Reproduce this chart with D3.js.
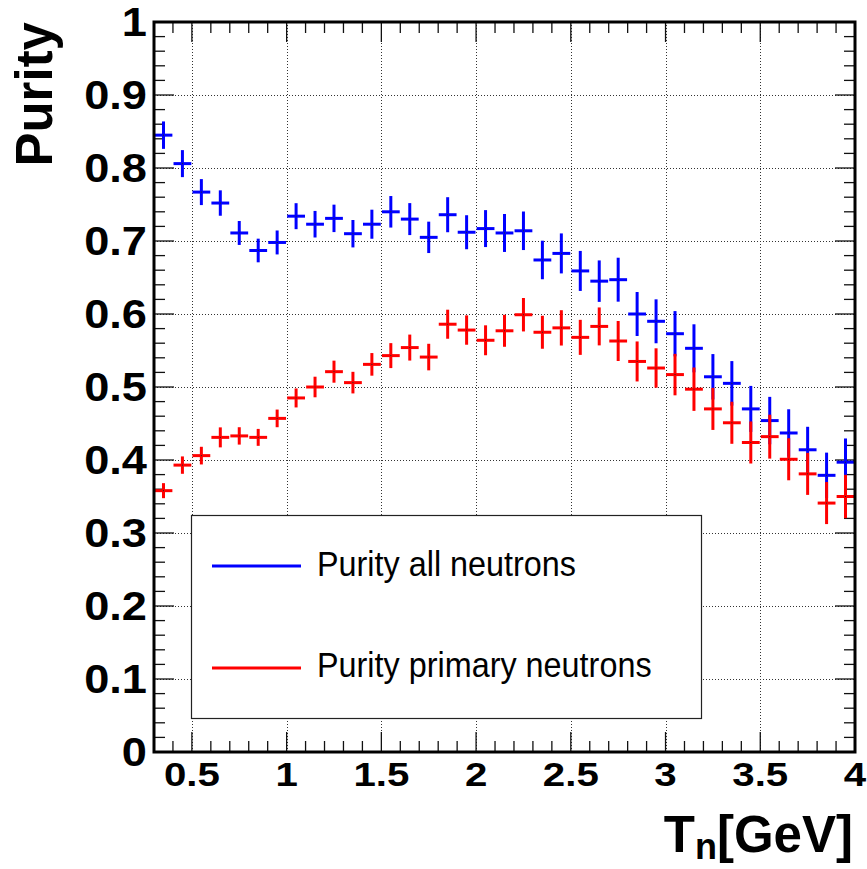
<!DOCTYPE html>
<html>
<head>
<meta charset="utf-8">
<script src="https://cdn.jsdelivr.net/npm/d3@7/dist/d3.min.js"></script>
<style>
  html, body { margin: 0; padding: 0; background: #fff; }
  svg { display: block; }
  text { font-family: "Liberation Sans", Arial, Helvetica, sans-serif; }
</style>
</head>
<body>
<svg id="chart" width="867" height="869"></svg>
<script>
// ---- data ----
const binCenters = [0.35,0.45,0.55,0.65,0.75,0.85,0.95,1.05,1.15,1.25,1.35,1.45,1.55,1.65,1.75,1.85,1.95,2.05,2.15,2.25,2.35,2.45,2.55,2.65,2.75,2.85,2.95,3.05,3.15,3.25,3.35,3.45,3.55,3.65,3.75,3.85,3.95];
const purityAll = [0.845,0.806,0.767,0.752,0.711,0.687,0.698,0.734,0.723,0.731,0.710,0.723,0.740,0.730,0.705,0.736,0.712,0.717,0.711,0.714,0.674,0.683,0.659,0.645,0.647,0.600,0.590,0.573,0.553,0.514,0.505,0.470,0.454,0.437,0.414,0.379,0.397];
const purityAllErr = [0.0188,0.0185,0.0178,0.0174,0.0164,0.0162,0.0164,0.0178,0.0182,0.0188,0.0188,0.0199,0.0216,0.0219,0.0215,0.0240,0.0233,0.0253,0.0260,0.0264,0.0264,0.0274,0.0274,0.0284,0.0301,0.0301,0.0301,0.0310,0.0329,0.0311,0.0305,0.0315,0.0325,0.0325,0.0315,0.0311,0.0325];
const purityPrimary = [0.358,0.393,0.406,0.431,0.433,0.431,0.457,0.485,0.500,0.521,0.506,0.531,0.543,0.554,0.541,0.586,0.578,0.564,0.577,0.599,0.575,0.581,0.568,0.583,0.563,0.535,0.526,0.517,0.497,0.470,0.451,0.424,0.432,0.401,0.381,0.341,0.350];
const purityPrimaryErr = [0.0103,0.0119,0.0121,0.0137,0.0119,0.0116,0.0121,0.0130,0.0141,0.0151,0.0148,0.0155,0.0171,0.0178,0.0182,0.0199,0.0201,0.0205,0.0219,0.0229,0.0226,0.0242,0.0240,0.0260,0.0274,0.0274,0.0270,0.0284,0.0297,0.0288,0.0288,0.0288,0.0301,0.0288,0.0288,0.0288,0.0297];
const xTickValues = [0.5,1,1.5,2,2.5,3,3.5,4];
const xTickLabels = ["0.5","1","1.5","2","2.5","3","3.5","4"];
const yTickValues = [0,0.1,0.2,0.3,0.4,0.5,0.6,0.7,0.8,0.9,1];
const yTickLabels = ["0","0.1","0.2","0.3","0.4","0.5","0.6","0.7","0.8","0.9","1"];
const seriesNames = ["Purity all neutrons","Purity primary neutrons"];
const xTitleMain = "T", xTitleSub = "n", xTitleUnit = "[GeV]";
const yTitle = "Purity";

// ---- layout ----
const L = 154, R = 855, T = 22, B = 752;
const svg = d3.select("#chart");
const x = d3.scaleLinear().domain([0.3, 4]).range([L, R]);
const y = d3.scaleLinear().domain([0, 1]).range([B, T]);
const halfBin = 0.047;

svg.append("rect").attr("width", 867).attr("height", 869).attr("fill", "#fff");

// grid
const grid = svg.append("g").attr("stroke", "#333").attr("stroke-width", 1).attr("stroke-dasharray", "1,2");
grid.selectAll("line.gx").data(xTickValues.filter(v => v < 4)).join("line")
  .attr("x1", d => Math.round(x(d)) + 0.5).attr("x2", d => Math.round(x(d)) + 0.5)
  .attr("y1", T).attr("y2", B);
grid.selectAll("line.gy").data(yTickValues.filter(v => v > 0 && v < 1)).join("line")
  .attr("y1", d => Math.round(y(d)) + 0.5).attr("y2", d => Math.round(y(d)) + 0.5)
  .attr("x1", L).attr("x2", R);

// ticks (ROOT-style, inside, all four sides)
const tickG = svg.append("g").attr("stroke", "#111").attr("stroke-width", 1.3);
const yMinor = d3.range(0, 51).map(i => i * 0.02);
const xMinor = d3.range(3, 41).map(i => i * 0.1);
const isMajorY = v => Math.abs(v * 10 - Math.round(v * 10)) < 1e-6;
const isMajorX = v => Math.abs(v * 2 - Math.round(v * 2)) < 1e-6;
yMinor.forEach(v => {
  const len = isMajorY(v) ? 20 : 11;
  const yy = y(v);
  tickG.append("line").attr("x1", L).attr("x2", L + len).attr("y1", yy).attr("y2", yy);
  tickG.append("line").attr("x1", R).attr("x2", R - len).attr("y1", yy).attr("y2", yy);
});
xMinor.forEach(v => {
  const len = isMajorX(v) ? 20 : 11;
  const xx = x(v);
  tickG.append("line").attr("x1", xx).attr("x2", xx).attr("y1", B).attr("y2", B - len);
  tickG.append("line").attr("x1", xx).attr("x2", xx).attr("y1", T).attr("y2", T + len);
});

// data (blue first, red on top)
function drawSeries(vals, errs, color) {
  const g = svg.append("g").attr("stroke", color).attr("stroke-width", 3);
  binCenters.forEach((c, i) => {
    g.append("line").attr("x1", x(c)).attr("x2", x(c))
      .attr("y1", y(vals[i] - errs[i])).attr("y2", y(vals[i] + errs[i]));
    g.append("line").attr("x1", x(c - halfBin)).attr("x2", x(c + halfBin))
      .attr("y1", y(vals[i])).attr("y2", y(vals[i]));
  });
  svg.append("g").selectAll("rect").data(binCenters).join("rect")
    .attr("x", d => x(d) - 0.5).attr("y", (d, i) => y(vals[i]) - 0.5)
    .attr("width", 1).attr("height", 1).attr("fill", "#222");
}
drawSeries(purityAll, purityAllErr, "#0000ff");
drawSeries(purityPrimary, purityPrimaryErr, "#ff0000");

// frame
svg.append("rect").attr("x", L).attr("y", T).attr("width", R - L).attr("height", B - T)
  .attr("fill", "none").attr("stroke", "#000").attr("stroke-width", 3);

// tick labels
const xl = svg.append("g");
xTickValues.forEach((v, i) => {
  xl.append("g").attr("transform", `translate(${x(v)},786) scale(1.22,1)`)
    .append("text").attr("text-anchor", "middle").attr("font-size", 33).attr("font-weight", "bold")
    .attr("fill", "#000").text(xTickLabels[i]);
});
const yl = svg.append("g");
yTickValues.forEach((v, i) => {
  yl.append("g").attr("transform", `translate(147,${y(v) + 14}) scale(1.13,1)`)
    .append("text").attr("text-anchor", "end").attr("font-size", 40).attr("font-weight", "bold")
    .attr("fill", "#000").text(yTickLabels[i]);
});

// axis titles
svg.append("text").attr("transform", "translate(52,22) rotate(-90)")
  .attr("text-anchor", "end").attr("font-size", 51).attr("font-weight", "bold").text(yTitle);
const xt = svg.append("text").attr("x", 853).attr("y", 852).attr("text-anchor", "end")
  .attr("font-size", 51).attr("font-weight", "bold");
xt.append("tspan").text(xTitleMain);
xt.append("tspan").attr("font-size", 36).attr("dy", 7).text(xTitleSub);
xt.append("tspan").attr("dy", -7).text(xTitleUnit);

// legend
const lg = svg.append("g");
lg.append("rect").attr("x", 191.5).attr("y", 515.5).attr("width", 510).attr("height", 203)
  .attr("fill", "#fff").attr("stroke", "#222").attr("stroke-width", 1.2);
const legendColors = ["#0000ff", "#ff0000"];
const legendLineY = [566, 668];
const legendTextY = [576, 677];
seriesNames.forEach((n, i) => {
  lg.append("line").attr("x1", 212).attr("x2", 301).attr("y1", legendLineY[i]).attr("y2", legendLineY[i])
    .attr("stroke", legendColors[i]).attr("stroke-width", 3);
  lg.append("g").attr("transform", `translate(317,${legendTextY[i]}) scale(0.925,1)`)
    .append("text").attr("font-size", 35).attr("fill", "#000").text(n);
});
</script>
</body>
</html>
